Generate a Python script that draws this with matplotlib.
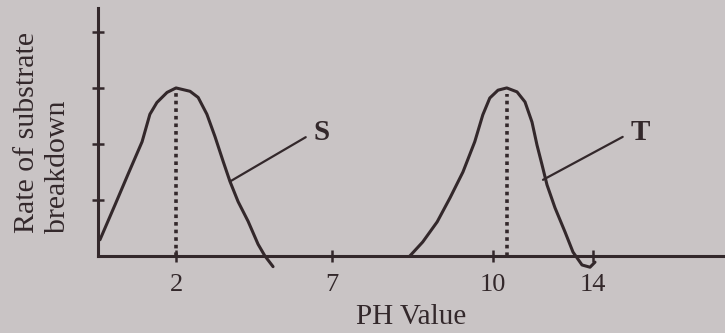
import numpy as np
import matplotlib
matplotlib.use("Agg")
import matplotlib.pyplot as plt
from matplotlib.scale import FuncScale

plt.rcParams['font.family'] = ['Liberation Serif', 'DejaVu Serif']

# curve S (acidic optimum)
s_ph = [0.05, 0.44, 0.77, 1.13, 1.33, 1.51, 1.77, 2.0, 2.45, 2.71, 2.99, 3.25, 3.51,
        3.73, 3.99, 4.31, 4.63, 4.85, 5.11]
s_rate = [0.29, 0.92, 1.46, 2.04, 2.53, 2.74, 2.92, 3.0, 2.94, 2.83, 2.53, 2.13, 1.69,
          1.33, 0.97, 0.62, 0.21, 0.0, -0.19]

# curve T (alkaline optimum)
t_ph = [8.45, 8.69, 8.96, 9.2, 9.44, 9.66, 9.81, 9.94, 10.2, 10.55, 10.96, 11.28, 11.56,
        11.76, 11.96, 12.16, 12.48, 12.88, 13.2, 13.56, 13.88, 14.08]
t_rate = [0.0, 0.25, 0.61, 1.04, 1.5, 2.04, 2.52, 2.82, 2.96, 3.0, 2.93, 2.75, 2.39,
          1.98, 1.63, 1.27, 0.86, 0.43, 0.07, -0.16, -0.2, -0.11]

optima = [2.0, 10.55]
optima_rate = [3.0, 2.9]

x_ticks = [2, 7, 10, 14]
x_tick_labels = ['2', '7', '10', '14']
y_ticks = [1, 2, 3, 4]

labels = ['S', 'T']
label_on_curve = [(3.73, 1.33), (12.0, 1.36)]
label_text_pos = [(6.4, 2.2), (15.5, 2.2)]

# the drawing is not to scale: piecewise mapping of pH to position
ph_knots = [0, 2, 7, 10, 14, 19.3]
pos_knots = [0, 78, 234, 395, 495, 627]

ink = '#33282b'
paper = '#c9c4c5'

fig = plt.figure(figsize=(7.25, 3.33), dpi=100, facecolor=paper)
ax = fig.add_axes([0.1352, 0.1387, 1 - 0.1352, 0.8378])
ax.set_facecolor('none')

ax.set_xscale(FuncScale(ax, (lambda v: np.interp(v, ph_knots, pos_knots),
                             lambda v: np.interp(v, pos_knots, ph_knots))))
ax.set_xlim(0, 19.3)
ax.set_ylim(-0.55, 4.43)

ax.plot(s_ph, s_rate, color=ink, lw=2.2, solid_joinstyle='round', solid_capstyle='round')
ax.plot(t_ph, t_rate, color=ink, lw=2.2, solid_joinstyle='round', solid_capstyle='round')

# dotted lines at the optimum pH
ax.vlines(optima, 0, optima_rate, colors=ink, lw=2.6, linestyles=(0, (1, 1.1)))

for lab, xy, xyt in zip(labels, label_on_curve, label_text_pos):
    ax.annotate(lab, xy=xy, xytext=xyt, fontsize=21, fontweight='bold', color=ink,
                ha='left', va='center',
                arrowprops=dict(arrowstyle='-', color=ink, lw=1.6,
                                shrinkA=4, shrinkB=0, relpos=(0, 0.5)))

for side in ['top', 'right']:
    ax.spines[side].set_visible(False)
ax.spines['bottom'].set_position(('data', 0))
ax.spines['left'].set_bounds(0, 4.43)
for side in ['bottom', 'left']:
    ax.spines[side].set_color(ink)
    ax.spines[side].set_linewidth(2.2)

ax.set_xticks(x_ticks)
ax.set_xticklabels(x_tick_labels)
ax.set_yticks(y_ticks)
ax.set_yticklabels([])
ax.xaxis.set_minor_locator(plt.NullLocator())
ax.tick_params(axis='x', direction='inout', length=8, width=1.8, color=ink,
               labelsize=19, labelcolor=ink, pad=9)
ax.tick_params(axis='y', direction='inout', length=9, width=1.8, color=ink)

fig.text(0.059, 0.30, 'Rate of substrate\nbreakdown', rotation=90, multialignment='left',
         ha='center', va='bottom', fontsize=21.5, color=ink, linespacing=1.25)
fig.text(0.567, 0.047, 'PH Value', ha='center', va='center', fontsize=21, color=ink)

fig.savefig('out.png', dpi=100, facecolor=paper)
